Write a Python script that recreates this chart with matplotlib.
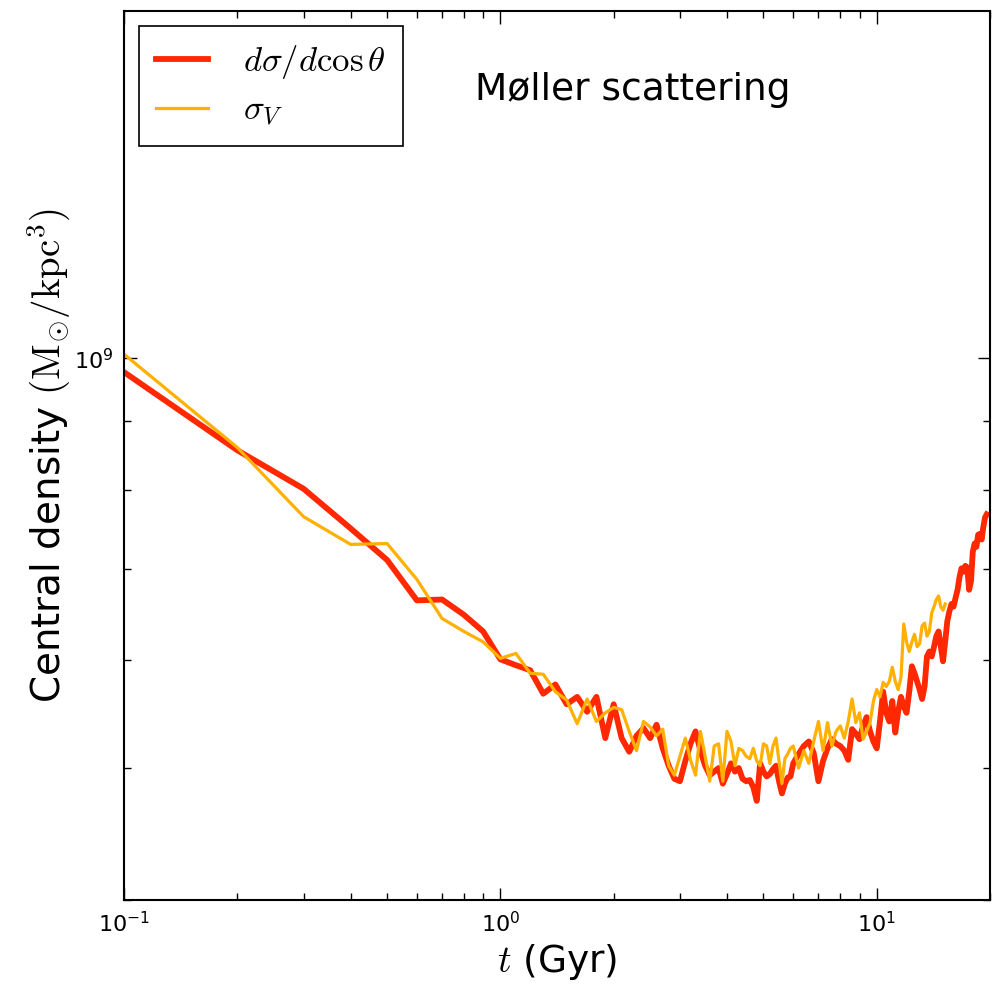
import numpy as np
import matplotlib
matplotlib.use("Agg")
import matplotlib.pyplot as plt
from matplotlib.ticker import LogLocator, NullFormatter

plt.rcParams['font.family'] = ['DejaVu Sans']
plt.rcParams['mathtext.fontset'] = 'cm'

# time grid (Gyr): 0.1 steps early, 0.2 steps later
t_dsig = [0.1, 0.2, 0.3, 0.4, 0.5, 0.6, 0.7, 0.8, 0.9, 1.0,
          1.1, 1.2, 1.3, 1.4, 1.5, 1.6, 1.7, 1.8, 1.9, 2.0,
          2.1, 2.2, 2.3, 2.4, 2.5, 2.6, 2.7, 2.8, 2.9, 3.0,
          3.1, 3.2, 3.3, 3.4, 3.5, 3.6, 3.7, 3.8, 3.9, 4.0,
          4.1, 4.2, 4.3, 4.4, 4.5, 4.6, 4.7, 4.8, 4.9, 5.0,
          5.1, 5.2, 5.3, 5.4, 5.5, 5.6, 5.7, 5.8, 5.9, 6.0,
          6.2, 6.4, 6.6, 6.8, 7.0, 7.2, 7.4, 7.6, 7.8, 8.0,
          8.2, 8.4, 8.6, 8.8, 9.0, 9.2, 9.4, 9.6, 9.8, 10.0,
          10.2, 10.4, 10.6, 10.8, 11.0, 11.2, 11.4, 11.6, 11.8, 12.0,
          12.2, 12.4, 12.6, 12.8, 13.0, 13.2, 13.4, 13.6, 13.8, 14.0,
          14.2, 14.4, 14.6, 14.8, 15.0, 15.2, 15.4, 15.6, 15.8, 16.0,
          16.2, 16.4, 16.6, 16.8, 17.0, 17.2, 17.4, 17.6, 17.8, 18.0,
          18.2, 18.4, 18.6, 18.8, 19.0, 19.2, 19.4, 19.6]

# central density, units of 1e8 Msun/kpc^3
rho_dsig = [9.77, 8.56, 8.02, 7.50, 7.11, 6.64, 6.65, 6.48, 6.30, 6.01,
            5.95, 5.90, 5.67, 5.76, 5.57, 5.64, 5.50, 5.64, 5.26, 5.57,
            5.26, 5.14, 5.28, 5.35, 5.26, 5.38, 5.17, 5.02, 4.91, 4.89,
            5.06, 5.21, 5.32, 5.15, 5.02, 4.94, 4.97, 5.00, 4.87, 4.95,
            5.04, 4.97, 5.00, 4.91, 4.89, 4.90, 4.84, 4.73, 5.04, 4.97,
            4.93, 4.95, 4.99, 5.02, 4.89, 4.79, 4.87, 4.92, 4.93, 5.04,
            5.12, 5.19, 5.23, 5.13, 4.89, 5.06, 5.17, 5.25, 5.21, 5.19,
            5.15, 5.07, 5.34, 5.30, 5.25, 5.37, 5.45, 5.32, 5.23, 5.17,
            5.41, 5.69, 5.49, 5.41, 5.60, 5.31, 5.50, 5.64, 5.55, 5.49,
            5.69, 5.94, 5.87, 5.79, 5.71, 5.62, 5.74, 6.04, 6.09, 6.04,
            6.14, 6.25, 6.30, 6.14, 5.99, 6.19, 6.41, 6.52, 6.60, 6.57,
            6.67, 6.76, 6.91, 7.01, 6.97, 7.04, 7.02, 6.76, 6.86, 7.21,
            7.31, 7.27, 7.42, 7.43, 7.36, 7.52, 7.64, 7.68]

t_sigv = [0.1, 0.2, 0.3, 0.4, 0.5, 0.6, 0.7, 0.8, 0.9, 1.0,
          1.1, 1.2, 1.3, 1.4, 1.5, 1.6, 1.7, 1.8, 1.9, 2.0,
          2.1, 2.2, 2.3, 2.4, 2.5, 2.6, 2.7, 2.8, 2.9, 3.0,
          3.1, 3.2, 3.3, 3.4, 3.5, 3.6, 3.7, 3.8, 3.9, 4.0,
          4.1, 4.2, 4.3, 4.4, 4.5, 4.6, 4.7, 4.8, 4.9, 5.0,
          5.1, 5.2, 5.3, 5.4, 5.5, 5.6, 5.7, 5.8, 5.9, 6.0,
          6.2, 6.4, 6.6, 6.8, 7.0, 7.2, 7.4, 7.6, 7.8, 8.0,
          8.2, 8.4, 8.6, 8.8, 9.0, 9.2, 9.4, 9.6, 9.8, 10.0,
          10.2, 10.4, 10.6, 10.8, 11.0, 11.2, 11.4, 11.6, 11.8, 12.0,
          12.2, 12.4, 12.6, 12.8, 13.0, 13.2, 13.4, 13.6, 13.8, 14.0,
          14.2, 14.4, 14.6, 14.8, 15.0, 15.2]

rho_sigv = [10.07, 8.60, 7.65, 7.30, 7.31, 6.88, 6.44, 6.30, 6.19, 6.02,
            6.07, 5.87, 5.86, 5.69, 5.61, 5.39, 5.62, 5.41, 5.49, 5.54,
            5.52, 5.32, 5.15, 5.41, 5.36, 5.28, 5.34, 5.02, 4.94, 5.10,
            5.26, 5.07, 4.94, 5.32, 5.10, 4.89, 5.19, 5.21, 4.89, 5.32,
            5.23, 5.02, 5.17, 5.15, 5.10, 5.08, 5.17, 5.06, 5.02, 5.21,
            5.19, 5.04, 5.19, 5.26, 5.06, 4.87, 5.08, 5.12, 5.17, 5.19,
            5.00, 5.15, 5.04, 5.23, 5.41, 5.15, 5.40, 5.19, 5.32, 5.37,
            5.26, 5.41, 5.62, 5.40, 5.49, 5.25, 5.32, 5.40, 5.60, 5.71,
            5.64, 5.78, 5.74, 5.79, 5.93, 5.79, 5.71, 5.83, 6.38, 6.19,
            6.09, 6.19, 6.27, 6.14, 6.17, 6.36, 6.39, 6.25, 6.30, 6.50,
            6.57, 6.65, 6.69, 6.57, 6.53, 6.60]

labels = [r'$d\sigma/d\cos\theta$', r'$\sigma_V$']

fig = plt.figure(figsize=(9.97, 9.84), dpi=100)
ax = fig.add_axes([0.1244, 0.0854, 0.8686, 0.9035])

ax.plot(t_dsig, np.array(rho_dsig) * 1e8, color='#ff2800', lw=4.2, label=labels[0])
ax.plot(t_sigv, np.array(rho_sigv) * 1e8, color='#ffb000', lw=2.3, label=labels[1])

ax.set_xscale('log')
ax.set_yscale('log')
ax.set_xlim(0.1, 20)
ax.set_ylim(4e8, 1.8e9)

ax.yaxis.set_minor_locator(LogLocator(base=10, subs=np.arange(2, 10)))
ax.xaxis.set_minor_formatter(NullFormatter())
ax.yaxis.set_minor_formatter(NullFormatter())
ax.tick_params(which='both', direction='in', top=True, right=True, labelsize=16, pad=8)
ax.tick_params(which='major', length=9, width=1)
ax.tick_params(which='minor', length=5, width=1)
for s in ax.spines.values():
    s.set_linewidth(1.5)

ax.set_xlabel(r'$t$ (Gyr)', fontsize=27, labelpad=4)
ax.set_ylabel(r'Central density $(\mathrm{M}_{\odot}/\mathrm{kpc}^3)$', fontsize=28, labelpad=1)

ax.text(0.587, 0.911, 'Møller scattering', transform=ax.transAxes,
        fontsize=27, ha='center', va='center')

leg = ax.legend(loc='upper left', fontsize=25, handlelength=1.5, handletextpad=1.0,
                borderpad=0.5, labelspacing=0.35, borderaxespad=0.42,
                fancybox=False, edgecolor='black', framealpha=1)
leg.get_frame().set_linewidth(1.2)

fig.savefig('out.png', dpi=100)
